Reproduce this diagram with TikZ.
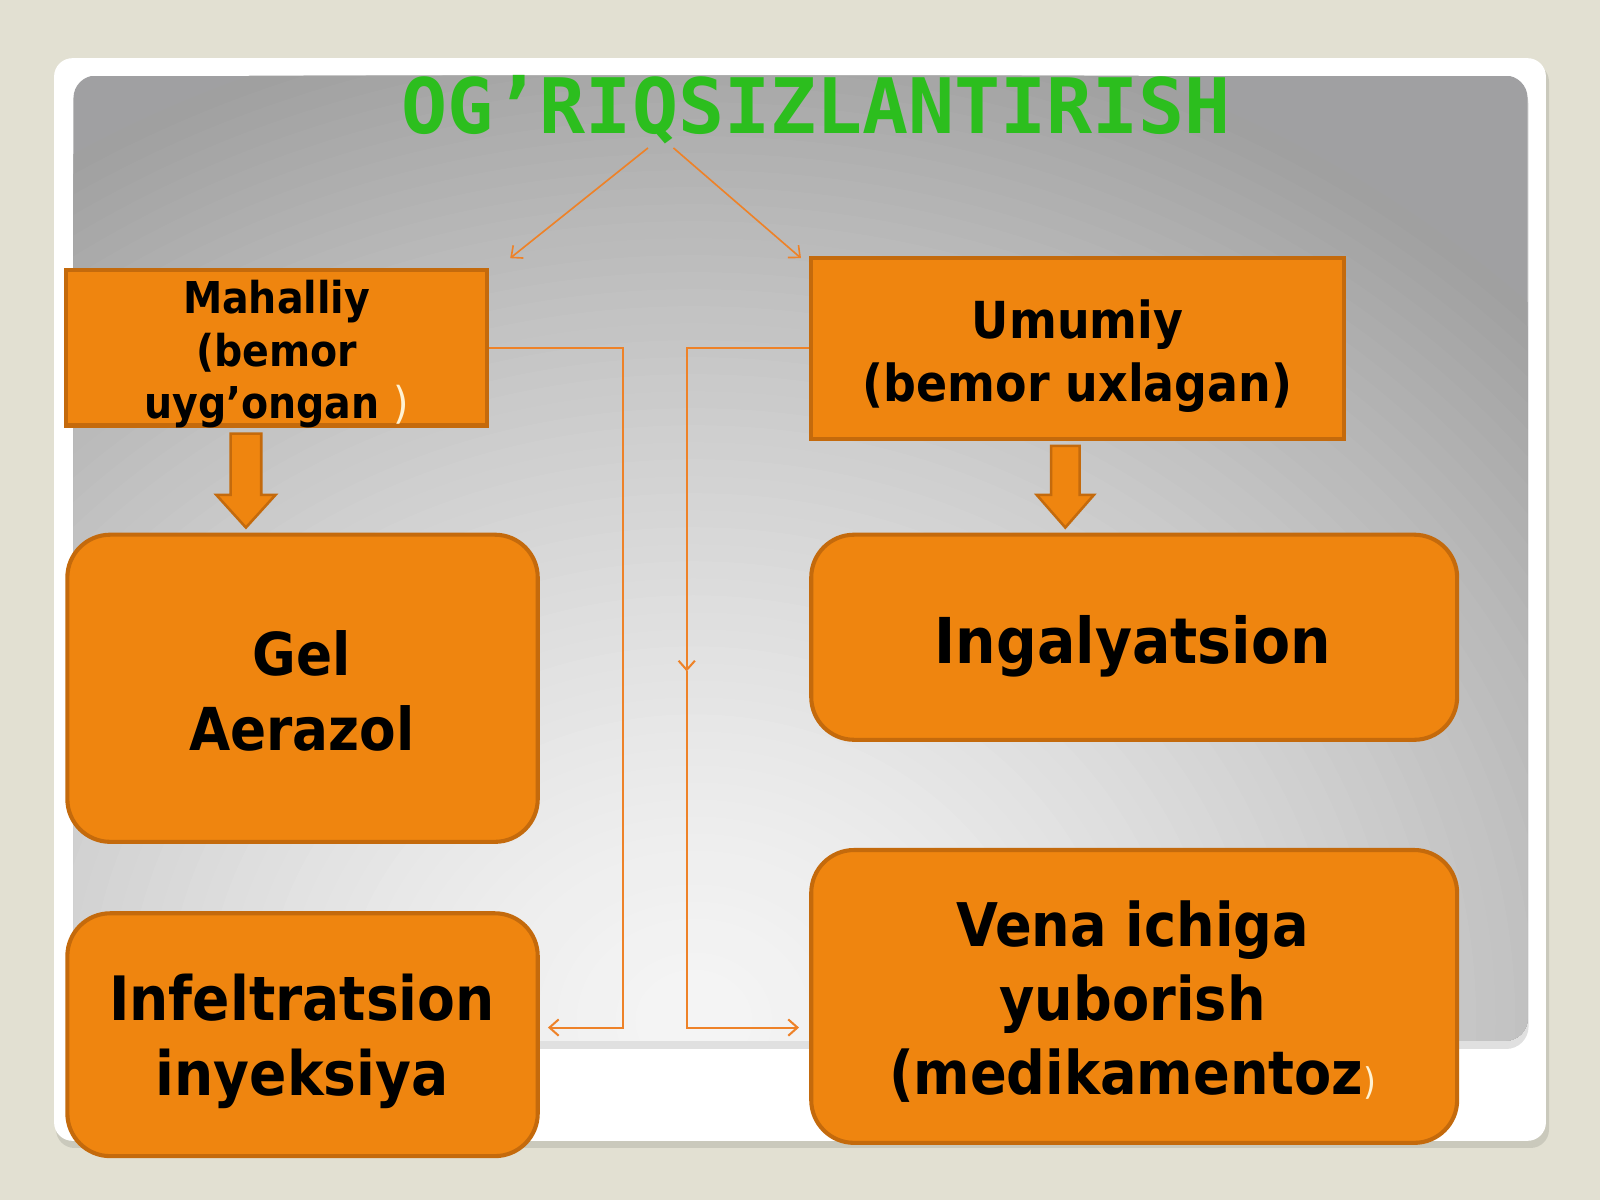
\documentclass[tikz,border=0pt]{standalone}
\usepackage{fontspec}
\setmainfont{DejaVu Sans}[FakeStretch=0.9]
\newfontfamily\titlefont{DejaVu Sans Mono}
\usetikzlibrary{arrows.meta,calc}

\definecolor{bgbeige}{RGB}{226,224,210}
\definecolor{boxorange}{RGB}{239,133,15}
\definecolor{boxborder}{RGB}{196,106,12}
\definecolor{lineorange}{RGB}{238,130,40}
\definecolor{titlegreen}{RGB}{44,190,30}
\definecolor{parenwhite}{RGB}{255,242,210}
\definecolor{gD}{RGB}{160,160,162}

\tikzset{
  rectbox/.style={draw=boxborder, fill=boxorange, line width=4pt, inner sep=0pt},
  roundbox/.style={rectbox, rounded corners=42pt},
  conn/.style={draw=lineorange, line width=2pt, -{Straight Barb[length=9pt,width=16pt]}},
  bodytext/.style={font=\bfseries, align=center, inner sep=0pt, text=black},
  blockarrow/.style={draw=boxborder, fill=boxorange, line width=2.5pt, line join=miter},
}

\begin{document}
\begin{tikzpicture}[x=1pt,y=-1pt]
\useasboundingbox (0,0) rectangle (1568,1176);
\fill[bgbeige] (0,0) rectangle (1568,1176);

% slide frame
\fill[black, opacity=0.10, rounded corners=18pt] (55,62) rectangle (1518,1125);
\fill[white, rounded corners=18pt] (53,57) rectangle (1515,1118);
\fill[black, opacity=0.12, rounded corners=22pt] (74,80) rectangle (1498,1028);
\begin{scope}
  \clip[rounded corners=22pt] (72,74) rectangle (1497,1020);
  \fill[gD] (72,74) rectangle (1497,1020);
  \foreach \i in {0,...,59} {
    \pgfmathsetmacro\rr{1-\i/60}
    \pgfmathtruncatemacro\L{245-85*(\rr^1.5)}
    \definecolor{bandcol}{RGB}{\L,\L,\L}
    \fill[bandcol] (680,1000) ellipse [x radius=1150*\rr pt, y radius=1000*\rr pt];
  }
\end{scope}

% title
\node[font=\titlefont\bfseries\fontsize{75}{75}\selectfont, text=titlegreen, anchor=base, inner sep=0pt] (title) at (800,131) {OG’RIQSIZLANTIRISH};

% boxes
\node[rectbox, minimum width=412pt, minimum height=152pt] (mah) at (271,341) {};
\node[rectbox, minimum width=522pt, minimum height=177pt] (umu) at (1056,341.5) {};
\node[roundbox, minimum width=461pt, minimum height=301pt] (gel) at (296.5,674.5) {};
\node[roundbox, minimum width=461pt, minimum height=238pt] (inf) at (296.5,1014) {};
\node[roundbox, minimum width=633pt, minimum height=201pt] (ing) at (1111.5,624.5) {};
\node[roundbox, minimum width=633pt, minimum height=287pt] (vena) at (1111.5,976.5) {};

% texts
\node[bodytext, font=\bfseries\fontsize{43}{51.5}\selectfont] (mahtext) at (271,347) {Mahalliy\\(bemor\\uyg’ongan {\mdseries\color{parenwhite})}};
\node[bodytext, font=\bfseries\fontsize{50}{61}\selectfont] (umutext) at (1056,349) {Umumiy\\(bemor uxlagan)};
\node[bodytext, font=\bfseries\fontsize{58}{73}\selectfont] (geltext) at (296,677) {Gel\\Aerazol};
\node[bodytext, font=\bfseries\fontsize{60}{73}\selectfont] (inftext) at (296,1020.5) {Infeltratsion\\inyeksiya};
\node[bodytext, font=\bfseries\fontsize{62}{62}\selectfont] (ingtext) at (1110,633) {Ingalyatsion};
\node[bodytext, font=\bfseries\fontsize{59}{72.5}\selectfont] (venatext) at (1110,982) {Vena ichiga\\yuborish\\(medikamentoz{\mdseries\fontsize{36}{36}\selectfont\color{parenwhite})}};

% title arrows
\coordinate (tl) at (635,145);
\coordinate (tr) at (660,145);
\coordinate (al) at (500,253);
\coordinate (ar) at (785,253);
\draw[conn, line width=1.6pt] (tl) -- (al);
\draw[conn, line width=1.6pt] (tr) -- (ar);

% block arrows
\coordinate (mahA) at (241,425);
\coordinate (mahB) at (241,517);
\filldraw[blockarrow] ($(mahA)+(-15,0)$) -- ($(mahA)+(15,0)$) -- ($(mahB)+(15,-32)$) -- ($(mahB)+(29,-32)$) -- (mahB) -- ($(mahB)+(-29,-32)$) -- ($(mahB)+(-15,-32)$) -- cycle;
\coordinate (umuA) at (1044,437);
\coordinate (umuB) at (1044,517);
\filldraw[blockarrow] ($(umuA)+(-14,0)$) -- ($(umuA)+(14,0)$) -- ($(umuB)+(14,-32)$) -- ($(umuB)+(28,-32)$) -- (umuB) -- ($(umuB)+(-28,-32)$) -- ($(umuB)+(-14,-32)$) -- cycle;

% side connectors
\coordinate (lj) at (611,1007);
\coordinate (ltip) at (537,1007);
\draw[conn] (mah.east) -| (lj) -- (ltip);
\coordinate (rmid) at (673,658);
\coordinate (rtip) at (783,1007);
\draw[conn] (umu.west) -| (rmid);
\draw[conn] (rmid) |- (rtip);
\end{tikzpicture}
\end{document}
